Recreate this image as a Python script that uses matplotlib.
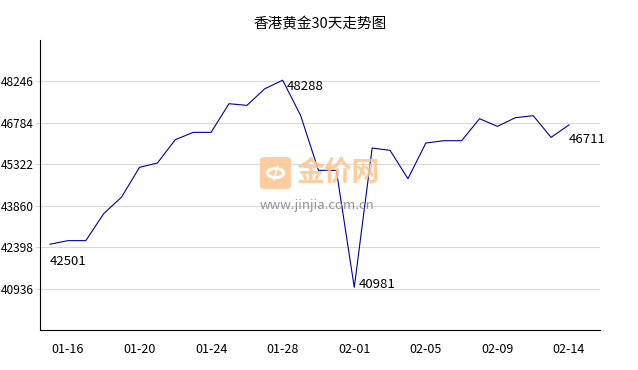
import matplotlib.pyplot as plt
from matplotlib.patches import FancyBboxPatch, Circle

plt.rcParams['font.family'] = ['Noto Sans CJK SC', 'DejaVu Sans']

dates = ['01-15', '01-16', '01-17', '01-18', '01-19', '01-20', '01-21', '01-22',
         '01-23', '01-24', '01-25', '01-26', '01-27', '01-28', '01-29', '01-30',
         '01-31', '02-01', '02-02', '02-03', '02-04', '02-05', '02-06', '02-07',
         '02-08', '02-09', '02-10', '02-11', '02-13', '02-14']
prices = [42501, 42628, 42628, 43580, 44168, 45214, 45367, 46189, 46448, 46448,
          47459, 47400, 47987, 48288, 47047, 45108, 45108, 40981, 45896, 45813,
          44814, 46072, 46154, 46154, 46930, 46660, 46965, 47036, 46272, 46711]
yticks = [40936, 42398, 43860, 45322, 46784, 48246]
tick_idx = [1, 5, 9, 13, 17, 21, 25, 29]

fig = plt.figure(figsize=(6.38, 3.7), dpi=100)
ax = fig.add_axes([0.0627, 0.108, 0.8777, 0.784])

x = list(range(len(prices)))
ax.plot(x, prices, color='#0000a0', lw=0.8, zorder=3)

ax.set_xlim(-0.56, 30.73)
ax.set_ylim(39474, 49708)
ax.set_yticks(yticks)
ax.set_yticklabels([str(v) for v in yticks], fontsize=8.6)
ax.set_xticks(tick_idx)
ax.set_xticklabels([dates[i] for i in tick_idx], fontsize=9)
ax.tick_params(axis='x', length=0, pad=9)
ax.tick_params(axis='y', length=3, width=0.6, color='#cccccc', pad=1.5)
ax.grid(axis='y', color='#d9d9d9', lw=0.8)
ax.set_axisbelow(True)
for s in ['top', 'right']:
    ax.spines[s].set_visible(False)
ax.spines['left'].set_color('black')
ax.spines['bottom'].set_color('black')

ax.set_title('香港黄金30天走势图', fontsize=10.5, pad=8)

# point labels
imax = prices.index(max(prices))
imin = prices.index(min(prices))
ax.annotate(str(prices[0]), (0, prices[0]), xytext=(0, -8), textcoords='offset points',
            ha='left', va='top', fontsize=9.5)
ax.annotate(str(prices[imax]), (imax, prices[imax]), xytext=(3, 0), textcoords='offset points',
            ha='left', va='top', fontsize=9.5)
ax.annotate(str(prices[imin]), (imin, prices[imin]), xytext=(3, 2), textcoords='offset points',
            ha='left', va='center', fontsize=9.5)
ax.annotate(str(prices[-1]), (len(prices) - 1, prices[-1]), xytext=(0, -6), textcoords='offset points',
            ha='left', va='top', fontsize=9.5)

# watermark
box = FancyBboxPatch((260 / 638, 1 - 189 / 370), 31 / 638, 32 / 370,
                     boxstyle='round,pad=0,rounding_size=0.008', transform=fig.transFigure,
                     facecolor='#fdc590', edgecolor='none', alpha=0.85, zorder=5)
fig.patches.append(box)
fig.patches.append(Circle((275.5 / 638, 1 - 173 / 370), 0.0125, transform=fig.transFigure,
                          facecolor='none', edgecolor='white', lw=2.2, zorder=6))
fig.text(275.5 / 638, 1 - 173 / 370, '/', color='white', fontsize=11, fontweight='bold',
         ha='center', va='center', zorder=7)
fig.text(296 / 638, 1 - 173 / 370, '金价网', color='#fdc590', fontsize=20, fontweight='bold',
         ha='left', va='center', alpha=0.85, zorder=5)
fig.text(260 / 638, 1 - 206 / 370, 'www.jinjia.com.cn', color='#888888', fontsize=9.5,
         ha='left', va='center', alpha=0.9, zorder=5)

fig.savefig('out.png', dpi=100)
